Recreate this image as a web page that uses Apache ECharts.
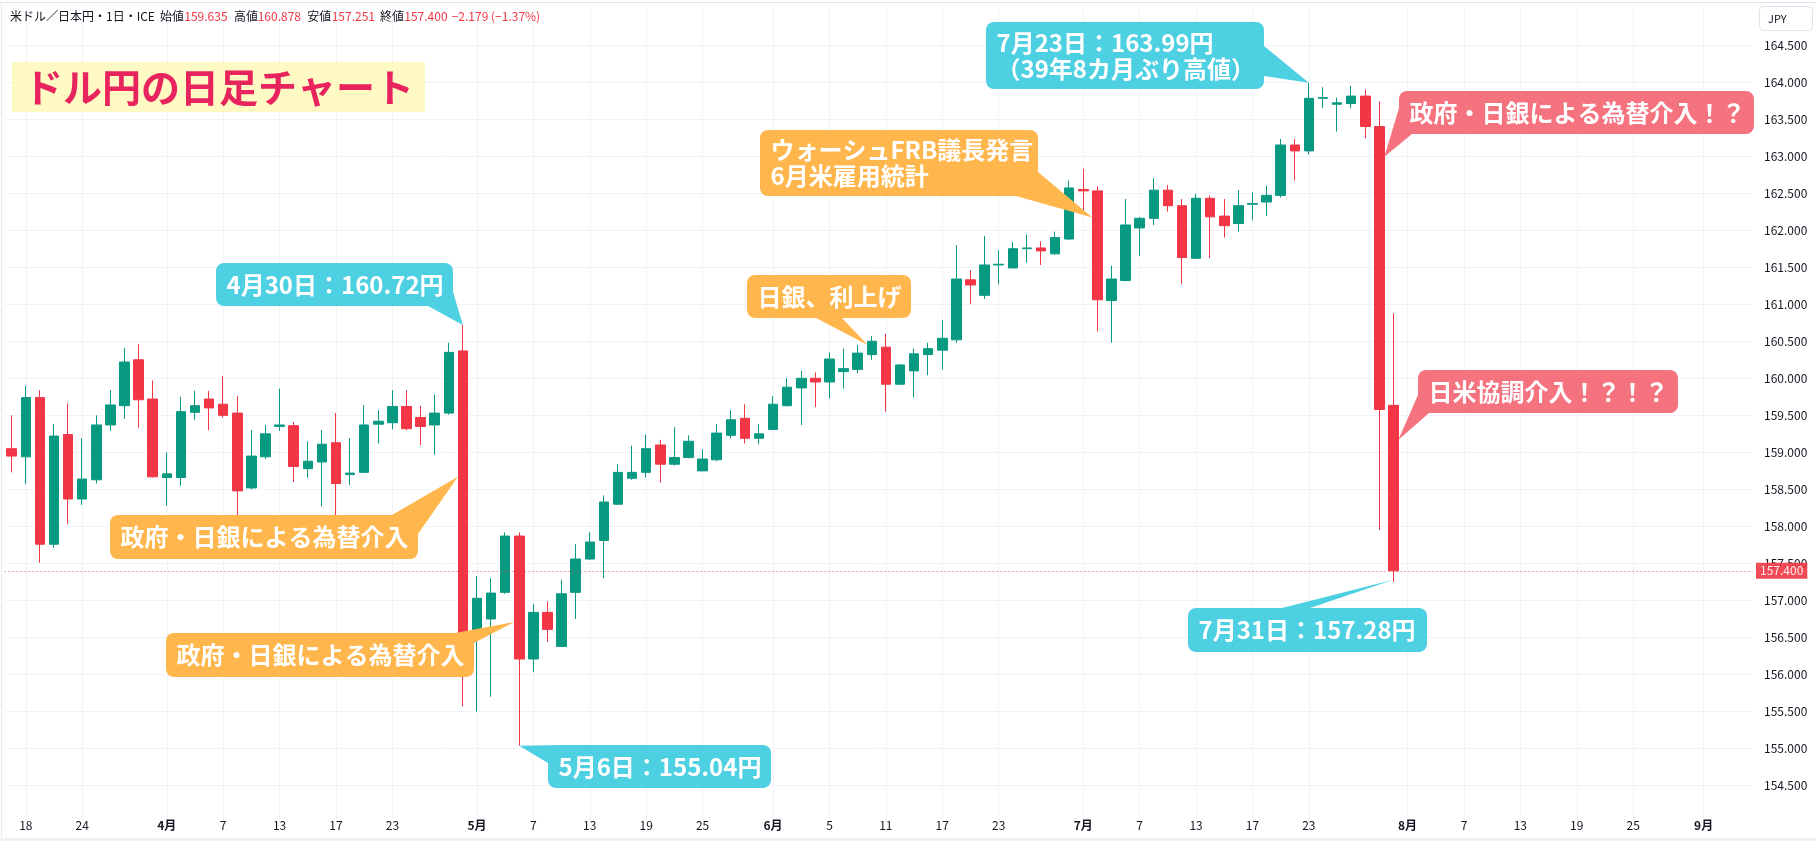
<!DOCTYPE html>
<html><head><meta charset="utf-8">
<script src="https://cdn.jsdelivr.net/npm/echarts@6.0.0/dist/echarts.min.js"></script>
<style>html,body{margin:0;padding:0;background:#fff}#c{width:1816px;height:841px}</style>
</head><body><div id="c"></div>
<script>
// ---- categories (trading days, 2026) ----
const categories = [
'3/17','3/18','3/19','3/20','3/23','3/24','3/25','3/26','3/27','3/30','3/31',
'4/1','4/2','4/3','4/6','4/7','4/8','4/9','4/10','4/13','4/14','4/15','4/16','4/17','4/20','4/21','4/22','4/23','4/24','4/27','4/28','4/29','4/30',
'5/1','5/4','5/5','5/6','5/7','5/8','5/11','5/12','5/13','5/14','5/15','5/18','5/19','5/20','5/21','5/22','5/25','5/26','5/27','5/28','5/29',
'6/1','6/2','6/3','6/4','6/5','6/8','6/9','6/10','6/11','6/12','6/15','6/16','6/17','6/18','6/19','6/22','6/23','6/24','6/25','6/26','6/29','6/30',
'7/1','7/2','7/3','7/6','7/7','7/8','7/9','7/10','7/13','7/14','7/15','7/16','7/17','7/20','7/21','7/22','7/23','7/24','7/27','7/28','7/29','7/30','7/31',
'8/3','8/4','8/5','8/6','8/7','8/10','8/11','8/12','8/13','8/14','8/17','8/18','8/19','8/20','8/21','8/24','8/25','8/26','8/27','8/28','8/31',
'9/1','9/2','9/3','9/4'];

// ---- x tick labels ----
const tickLabels = {
'3/18':'18','3/24':'24','4/1':'4月','4/7':'7','4/13':'13','4/17':'17','4/23':'23',
'5/1':'5月','5/7':'7','5/13':'13','5/19':'19','5/25':'25',
'6/1':'6月','6/5':'5','6/11':'11','6/17':'17','6/23':'23',
'7/1':'7月','7/7':'7','7/13':'13','7/17':'17','7/23':'23',
'8/3':'8月','8/7':'7','8/13':'13','8/19':'19','8/25':'25','9/1':'9月'};

// ---- OHLC ----
const opens = [159.05,158.94,159.74,157.76,159.24,158.37,158.63,159.37,159.63,160.25,159.72,158.66,158.66,159.54,159.72,159.65,159.53,158.52,158.94,159.35,
159.36,158.78,158.87,159.13,158.70,158.73,159.38,159.40,159.62,159.47,159.37,159.53,160.37,156.54,156.75,157.11,157.87,156.21,156.84,156.38,
157.11,157.56,157.81,158.30,158.65,158.73,159.10,158.84,158.93,158.75,158.90,159.23,159.46,159.19,159.31,159.63,159.87,160.00,159.95,160.09,
160.12,160.32,160.42,159.92,160.10,160.32,160.38,160.52,161.33,161.12,161.53,161.49,161.75,161.76,161.68,161.88,162.55,162.53,161.05,161.32,
162.03,162.16,162.54,162.33,161.62,162.43,162.19,162.09,162.35,162.38,162.47,163.15,163.07,163.78,163.70,163.71,163.81,163.40,159.635];
const closes = [158.95,159.74,157.76,159.22,158.37,158.64,159.37,159.64,160.22,159.71,158.67,158.71,159.55,159.63,159.60,159.50,158.48,158.95,159.25,159.37,
158.81,158.88,159.11,158.58,158.72,159.37,159.42,159.62,159.32,159.35,159.53,160.35,156.56,157.03,157.10,157.87,156.21,156.84,156.61,157.09,
157.56,157.79,158.33,158.73,158.73,159.05,158.84,158.93,159.15,158.91,159.26,159.44,159.19,159.25,159.65,159.88,160.00,159.95,160.26,160.13,
160.34,160.50,159.92,160.18,160.33,160.40,160.54,161.34,161.26,161.53,161.54,161.75,161.76,161.72,161.90,162.57,162.53,161.06,161.34,162.07,
162.16,162.54,162.33,161.63,162.43,162.18,162.06,162.33,162.36,162.47,163.15,163.07,163.78,163.79,163.72,163.81,163.40,159.579,157.400];
const lows = [158.73,158.57,157.51,157.71,158.03,158.29,158.58,159.29,159.45,159.33,158.66,158.28,158.55,159.44,159.30,159.47,157.95,158.50,158.91,159.29,
158.60,158.66,158.27,157.59,158.56,158.72,159.12,159.31,159.30,159.10,158.97,159.51,155.57,155.50,155.70,157.09,155.04,156.03,156.44,156.37,
156.75,157.55,157.30,158.29,158.63,158.66,158.59,158.82,158.92,158.75,158.88,159.19,159.12,159.11,159.30,159.62,159.37,159.61,159.73,159.86,
160.07,160.25,159.55,159.91,159.74,160.04,160.12,160.48,161.00,161.07,161.27,161.49,161.56,161.53,161.67,161.87,162.25,160.63,160.48,161.31,
161.65,162.07,162.25,161.27,161.62,161.62,161.90,161.98,162.14,162.19,162.44,162.67,163.02,163.65,163.33,163.65,163.24,157.95,157.251];
const highs = [159.50,159.90,159.84,159.38,159.66,159.19,159.50,159.84,160.41,160.46,159.97,159.00,159.75,159.83,159.83,160.03,159.76,159.30,159.37,159.86,
159.41,159.15,159.30,159.53,159.19,159.64,159.57,159.84,159.84,159.63,159.78,160.48,160.72,157.33,157.30,157.92,157.92,156.95,156.99,157.28,
157.76,157.92,158.42,158.84,159.09,159.24,159.17,159.34,159.23,159.04,159.38,159.57,159.65,159.38,159.76,160.00,160.10,160.08,160.35,160.40,
160.45,160.57,160.60,160.19,160.40,160.48,160.79,161.80,161.46,161.92,161.73,161.84,161.94,161.85,161.98,162.67,162.83,162.59,161.52,162.42,
162.18,162.70,162.61,162.42,162.49,162.47,162.42,162.54,162.51,162.60,163.23,163.23,163.99,163.93,163.79,163.95,163.90,163.74,160.878];

const GREEN = '#089981', RED = '#f23645', INK = '#131722';
const CYAN = '#4dd0e1', ORANGE = '#ffb74d', PINK = '#f5737f';
const FONT = '"Noto Sans CJK JP", "Noto Sans", sans-serif';

// callout layout (boxes in px; tips anchored to data)
const notes = [
 {text:'4月30日：160.72円', color:CYAN, box:[216,263,237,43], base:[[428,306],[453,292]], tip:[32,160.72], dx:0},
 {text:'政府・日銀による為替介入', color:ORANGE, box:[110,515,308,44], base:[[392,515],[418,534]], tip:[32,158.67], dx:-5},
 {text:'政府・日銀による為替介入', color:ORANGE, box:[166,633,308,44], base:[[455,633],[474,643]], tip:[36,156.71], dx:-5},
 {text:'5月6日：155.04円', color:CYAN, box:[548,745,223,43], base:[[562,745],[548,763]], tip:[36,155.04], dx:0},
 {text:'7月23日：163.99円\n（39年8カ月ぶり高値）', color:CYAN, box:[986,22,278,67], base:[[1264,46],[1264,76]], tip:[92,163.99], dx:0},
 {text:'ウォーシュFRB議長発言\n6月米雇用統計', color:ORANGE, box:[760,130,278,66], base:[[1038,172],[1016,196]], tip:[77,162.17], dx:-5},
 {text:'日銀、利上げ', color:ORANGE, box:[747,275,164,43], base:[[816,318],[842,318]], tip:[61,160.45], dx:-4},
 {text:'政府・日銀による為替介入！？', color:PINK, box:[1399,91,355,43], base:[[1399,108],[1412,134]], tip:[97,162.99], dx:5},
 {text:'日米協調介入！？！？', color:PINK, box:[1418,370,260,43], base:[[1418,395],[1429,413]], tip:[98,159.17], dx:5},
 {text:'7月31日：157.28円', color:CYAN, box:[1188,608,239,44], base:[[1282,608],[1310,608]], tip:[98,157.28], dx:0}
];

const last = closes.length - 1;
const data = opens.map((o, i) => [o, closes[i], lows[i], highs[i]]);
const isTick = (i, v) => Object.prototype.hasOwnProperty.call(tickLabels, v);

const chart = echarts.init(document.getElementById('c'));
chart.setOption({
  animation: false,
  backgroundColor: '#ffffff',
  grid: {left: 4.65, right: 63, top: 7.96, bottom: 18.3},
  xAxis: {
    type: 'category', data: categories, boundaryGap: true, offset: -14.7,
    axisLine: {show: false}, axisTick: {show: false},
    axisLabel: {
      interval: isTick, margin: 11, fontSize: 12, color: INK, fontFamily: FONT,
      formatter: v => { const t = tickLabels[v] || ''; return t.indexOf('月') >= 0 ? '{m|' + t + '}' : t; },
      rich: {m: {fontWeight: 'bold', fontSize: 12, color: INK, fontFamily: FONT}}
    },
    splitLine: {show: true, interval: isTick, alignWithLabel: true, lineStyle: {color: '#f0f3fa', width: 1}}
  },
  yAxis: {
    type: 'value', position: 'right', min: 154, max: 165, interval: 0.5,
    axisLine: {show: false}, axisTick: {show: false},
    axisLabel: {formatter: v => v.toFixed(3), margin: 11, fontSize: 12, color: INK, fontFamily: FONT,
      showMinLabel: false, showMaxLabel: false},
    splitLine: {show: true, showMinLine: false, showMaxLine: false, lineStyle: {color: '#f0f3fa', width: 1}}
  },
  series: [{
    type: 'candlestick', data: data, barWidth: 10,
    itemStyle: {color: GREEN, color0: RED, borderColor: GREEN, borderColor0: RED, borderWidth: 1},
    markLine: {
      silent: true, symbol: ['none', 'none'],
      data: [{yAxis: closes[last]}],
      lineStyle: {color: RED, type: [1, 3], width: 1, opacity: 0.9},
      label: {show: true, position: 'end', distance: 3, formatter: closes[last].toFixed(3),
        backgroundColor: RED, color: '#fff', fontSize: 12, fontFamily: FONT, padding: [2, 4, 2, 4]}
    }
  }]
});

// ---- overlay: header, title, callouts ----
const els = [];
els.push({type:'rect', shape:{x:0, y:2, width:1816, height:1}, style:{fill:'#e0e3eb'}, z:90});
els.push({type:'rect', shape:{x:1, y:2, width:1, height:836}, style:{fill:'#e8eaef'}, z:90});
els.push({type:'rect', shape:{x:0, y:838, width:1816, height:3}, style:{fill:'#eef0f4'}, z:90});

const chg = closes[last] - closes[last - 1];
const pct = chg / closes[last - 1] * 100;
const fmtSigned = n => (n < 0 ? '−' : '+') + Math.abs(n).toFixed(3);
const header = [
  {t:'米ドル／日本円・1日・ICE', x:10, c:INK},
  {t:'始値', x:160, c:INK}, {t:opens[last].toFixed(3), x:184.3, c:RED},
  {t:'高値', x:234, c:INK}, {t:highs[last].toFixed(3), x:257.7, c:RED},
  {t:'安値', x:307.3, c:INK}, {t:lows[last].toFixed(3), x:331.7, c:RED},
  {t:'終値', x:380, c:INK}, {t:closes[last].toFixed(3), x:404.3, c:RED},
  {t:fmtSigned(chg) + ' (' + (pct < 0 ? '−' : '+') + Math.abs(pct).toFixed(2) + '%)', x:451.7, c:RED}
];
header.forEach(h => els.push({type:'text', x:h.x, y:16, z:110,
  style:{text:h.t, fill:h.c, fontSize:12, fontFamily:FONT, verticalAlign:'middle', align:'left'}}));

// JPY box
els.push({type:'rect', shape:{x:1759.5, y:6.5, width:53, height:24, r:4}, style:{fill:'#fff', stroke:'#e0e3eb', lineWidth:1}, z:110});
els.push({type:'text', x:1768, y:18.5, z:111, style:{text:'JPY', fill:INK, fontSize:11, fontFamily:FONT, verticalAlign:'middle', align:'left'}});

// title
els.push({type:'rect', shape:{x:12, y:62, width:413, height:50}, style:{fill:'#fff9c4'}, z:110});
els.push({type:'text', x:24, y:87, z:111, style:{text:'ドル円の日足チャート', fill:'#e8245f', fontSize:39, fontWeight:'bold',
  fontFamily:FONT, verticalAlign:'middle', align:'left'}});

notes.forEach((n, k) => {
  const p = chart.convertToPixel({seriesIndex: 0}, [categories[n.tip[0]], n.tip[1]]);
  const tip = [p[0] + n.dx, p[1]];
  const [bx, by, bw, bh] = n.box;
  els.push({type:'polygon', shape:{points:[n.base[0], n.base[1], tip]}, style:{fill:n.color}, z:120 + k * 3});
  els.push({type:'rect', shape:{x:bx, y:by, width:bw, height:bh, r:8}, style:{fill:n.color}, z:121 + k * 3});
  els.push({type:'text', x:bx + 10.5, y:by + bh / 2, z:122 + k * 3,
    style:{text:n.text, fill:'#fff', fontSize:24, fontWeight:'bold', fontFamily:FONT,
      verticalAlign:'middle', align:'left', lineHeight:26}});
});

chart.setOption({graphic: {elements: els}});
</script></body></html>
